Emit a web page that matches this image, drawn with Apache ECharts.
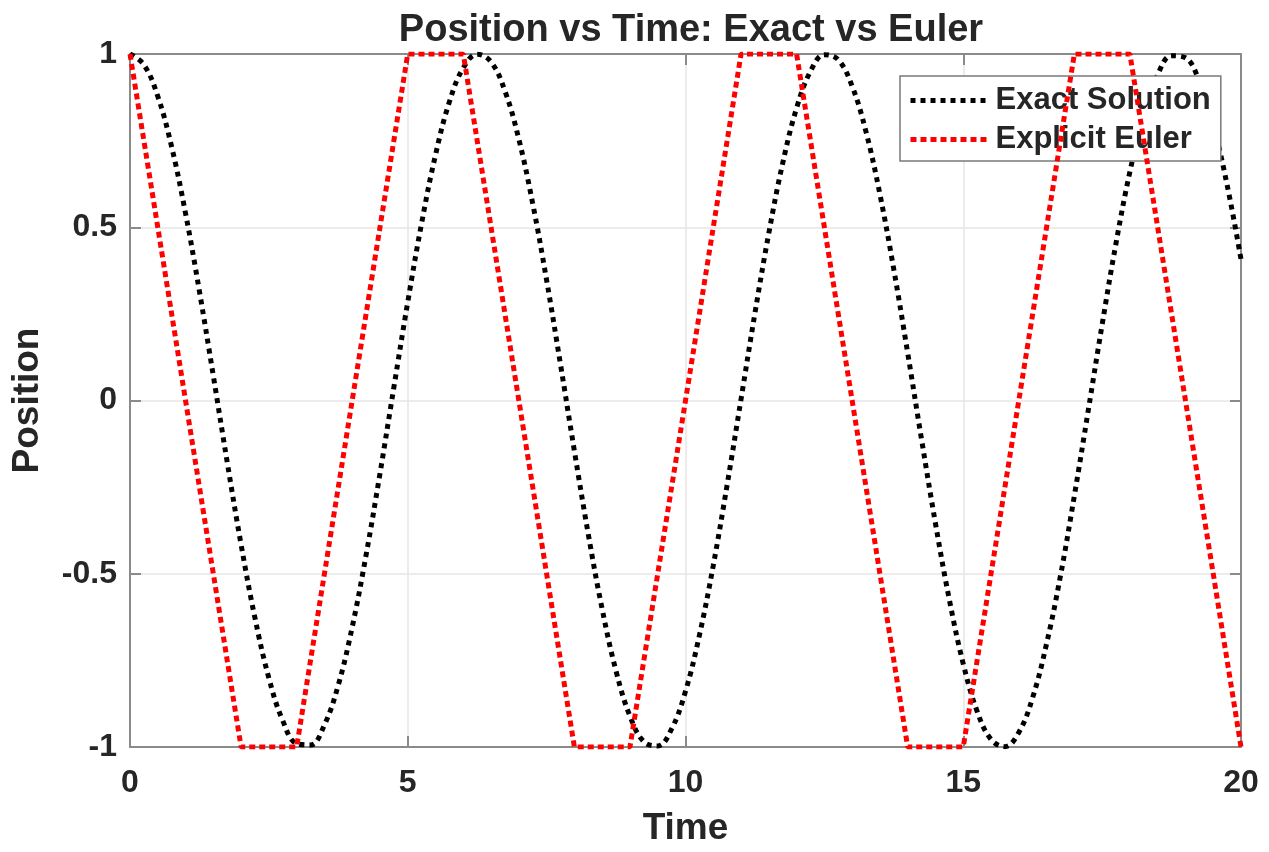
<!DOCTYPE html>
<html>
<head>
<meta charset="utf-8">
<title>Position vs Time: Exact vs Euler</title>
<script src="https://cdn.jsdelivr.net/npm/echarts@6/dist/echarts.min.js"></script>
<style>
  html, body { margin: 0; padding: 0; background: #ffffff; }
  #chart { width: 1269px; height: 852px; }
</style>
</head>
<body>
<div id="chart"></div>
<script>
// Exact solution x(t), sampled every 0.25 s
const exactTime = [
  0, 0.25, 0.5, 0.75, 1, 1.25, 1.5, 1.75, 2, 2.25, 2.5, 2.75, 3, 3.25, 3.5, 3.75,
  4, 4.25, 4.5, 4.75, 5, 5.25, 5.5, 5.75, 6, 6.25, 6.5, 6.75, 7, 7.25, 7.5, 7.75,
  8, 8.25, 8.5, 8.75, 9, 9.25, 9.5, 9.75, 10, 10.25, 10.5, 10.75, 11, 11.25, 11.5, 11.75,
  12, 12.25, 12.5, 12.75, 13, 13.25, 13.5, 13.75, 14, 14.25, 14.5, 14.75, 15, 15.25, 15.5, 15.75,
  16, 16.25, 16.5, 16.75, 17, 17.25, 17.5, 17.75, 18, 18.25, 18.5, 18.75, 19, 19.25, 19.5, 19.75,
  20
];
const exactPosition = [
  1.000, 0.969, 0.878, 0.732, 0.540, 0.315, 0.071, -0.178, -0.416, -0.628, -0.801, -0.924, -0.990, -0.994, -0.936, -0.821,
  -0.654, -0.446, -0.211, 0.038, 0.284, 0.512, 0.709, 0.862, 0.960, 0.999, 0.977, 0.893, 0.754, 0.568, 0.347, 0.104,
  -0.146, -0.386, -0.602, -0.781, -0.911, -0.985, -0.997, -0.948, -0.839, -0.678, -0.476, -0.243, 0.004, 0.252, 0.483, 0.685,
  0.844, 0.950, 0.998, 0.983, 0.907, 0.775, 0.595, 0.378, 0.137, -0.113, -0.355, -0.575, -0.760, -0.897, -0.978, -0.999,
  -0.958, -0.857, -0.702, -0.506, -0.275, -0.029, 0.219, 0.454, 0.660, 0.826, 0.940, 0.995, 0.989, 0.921, 0.796, 0.622,
  0.408
];

// Explicit Euler steps (dt = 1)
const eulerTime = [0, 1, 2, 3, 4, 5, 6, 7, 8, 9, 10, 11, 12, 13, 14, 15, 16, 17, 18, 19, 20];
const eulerPosition = [1, 0, -1, -1, 0, 1, 1, 0, -1, -1, 0, 1, 1, 0, -1, -1, 0, 1, 1, 0, -1];

const seriesNames = ['Exact Solution', 'Explicit Euler'];

const FONT = '"Liberation Sans", Arial, Helvetica, sans-serif';
const TEXT = '#262626';
const FRAME = '#8a8a8a';

const pairs = (xs, ys) => xs.map((x, i) => [x, ys[i]]);

const chart = echarts.init(document.getElementById('chart'), null, { renderer: 'canvas' });

const frameAxis = {
  axisLine: { show: true, onZero: false, lineStyle: { color: FRAME, width: 2 } },
  axisTick: { show: true, inside: true, length: 11, lineStyle: { color: FRAME, width: 2 } },
  axisLabel: { show: false },
  splitLine: { show: false }
};

chart.setOption({
  animation: false,
  backgroundColor: '#ffffff',
  title: {
    text: 'Position vs Time: Exact vs Euler',
    left: 686, top: 7, textAlign: 'center',
    textStyle: { fontFamily: FONT, fontSize: 38, fontWeight: 'bold', color: TEXT }
  },
  grid: { left: 130, right: 28, top: 54, bottom: 101, containLabel: false },
  legend: {
    data: seriesNames,
    orient: 'vertical',
    left: 900, top: 76,
    padding: [9, 10, 6, 8],
    itemGap: 8,
    itemWidth: 80, itemHeight: 30,
    itemStyle: { opacity: 0 },
    lineStyle: { width: 5 },
    backgroundColor: '#ffffff',
    borderColor: '#7a7a7a', borderWidth: 1.5,
    textStyle: { fontFamily: FONT, fontSize: 31, fontWeight: 'bold', color: TEXT }
  },
  xAxis: [
    {
      type: 'value', min: 0, max: 20, interval: 5,
      name: 'Time', nameLocation: 'middle', nameGap: 63,
      nameTextStyle: { fontFamily: FONT, fontSize: 37, fontWeight: 'bold', color: TEXT },
      axisLine: { show: true, onZero: false, lineStyle: { color: FRAME, width: 2 } },
      axisTick: { show: true, inside: true, length: 11, lineStyle: { color: FRAME, width: 2 } },
      axisLabel: { fontFamily: FONT, fontSize: 32, fontWeight: 'bold', color: TEXT, margin: 20 },
      splitLine: { show: true, lineStyle: { color: '#e6e6e6', width: 1.5 } }
    },
    Object.assign({ type: 'value', position: 'top', min: 0, max: 20, interval: 5 }, frameAxis)
  ],
  yAxis: [
    {
      type: 'value', min: -1, max: 1, interval: 0.5,
      name: 'Position', nameLocation: 'middle', nameGap: 84, nameRotate: 90,
      nameTextStyle: { fontFamily: FONT, fontSize: 37, fontWeight: 'bold', color: TEXT },
      axisLine: { show: true, onZero: false, lineStyle: { color: FRAME, width: 2 } },
      axisTick: { show: true, inside: true, length: 11, lineStyle: { color: FRAME, width: 2 } },
      axisLabel: { fontFamily: FONT, fontSize: 32, fontWeight: 'bold', color: TEXT, margin: 13 },
      splitLine: { show: true, lineStyle: { color: '#e6e6e6', width: 1.5 } }
    },
    Object.assign({ type: 'value', position: 'right', min: -1, max: 1, interval: 0.5 }, frameAxis)
  ],
  series: [
    {
      name: seriesNames[0],
      type: 'line',
      data: pairs(exactTime, exactPosition),
      smooth: 0.4,
      symbol: 'none',
      color: '#000000',
      lineStyle: { color: '#000000', width: 5, type: [5, 5] },
      z: 3
    },
    {
      name: seriesNames[1],
      type: 'line',
      data: pairs(eulerTime, eulerPosition),
      symbol: 'none',
      color: '#ff0000',
      lineStyle: { color: '#ff0000', width: 5, type: [6, 4] },
      z: 4
    }
  ]
});
</script>
</body>
</html>
